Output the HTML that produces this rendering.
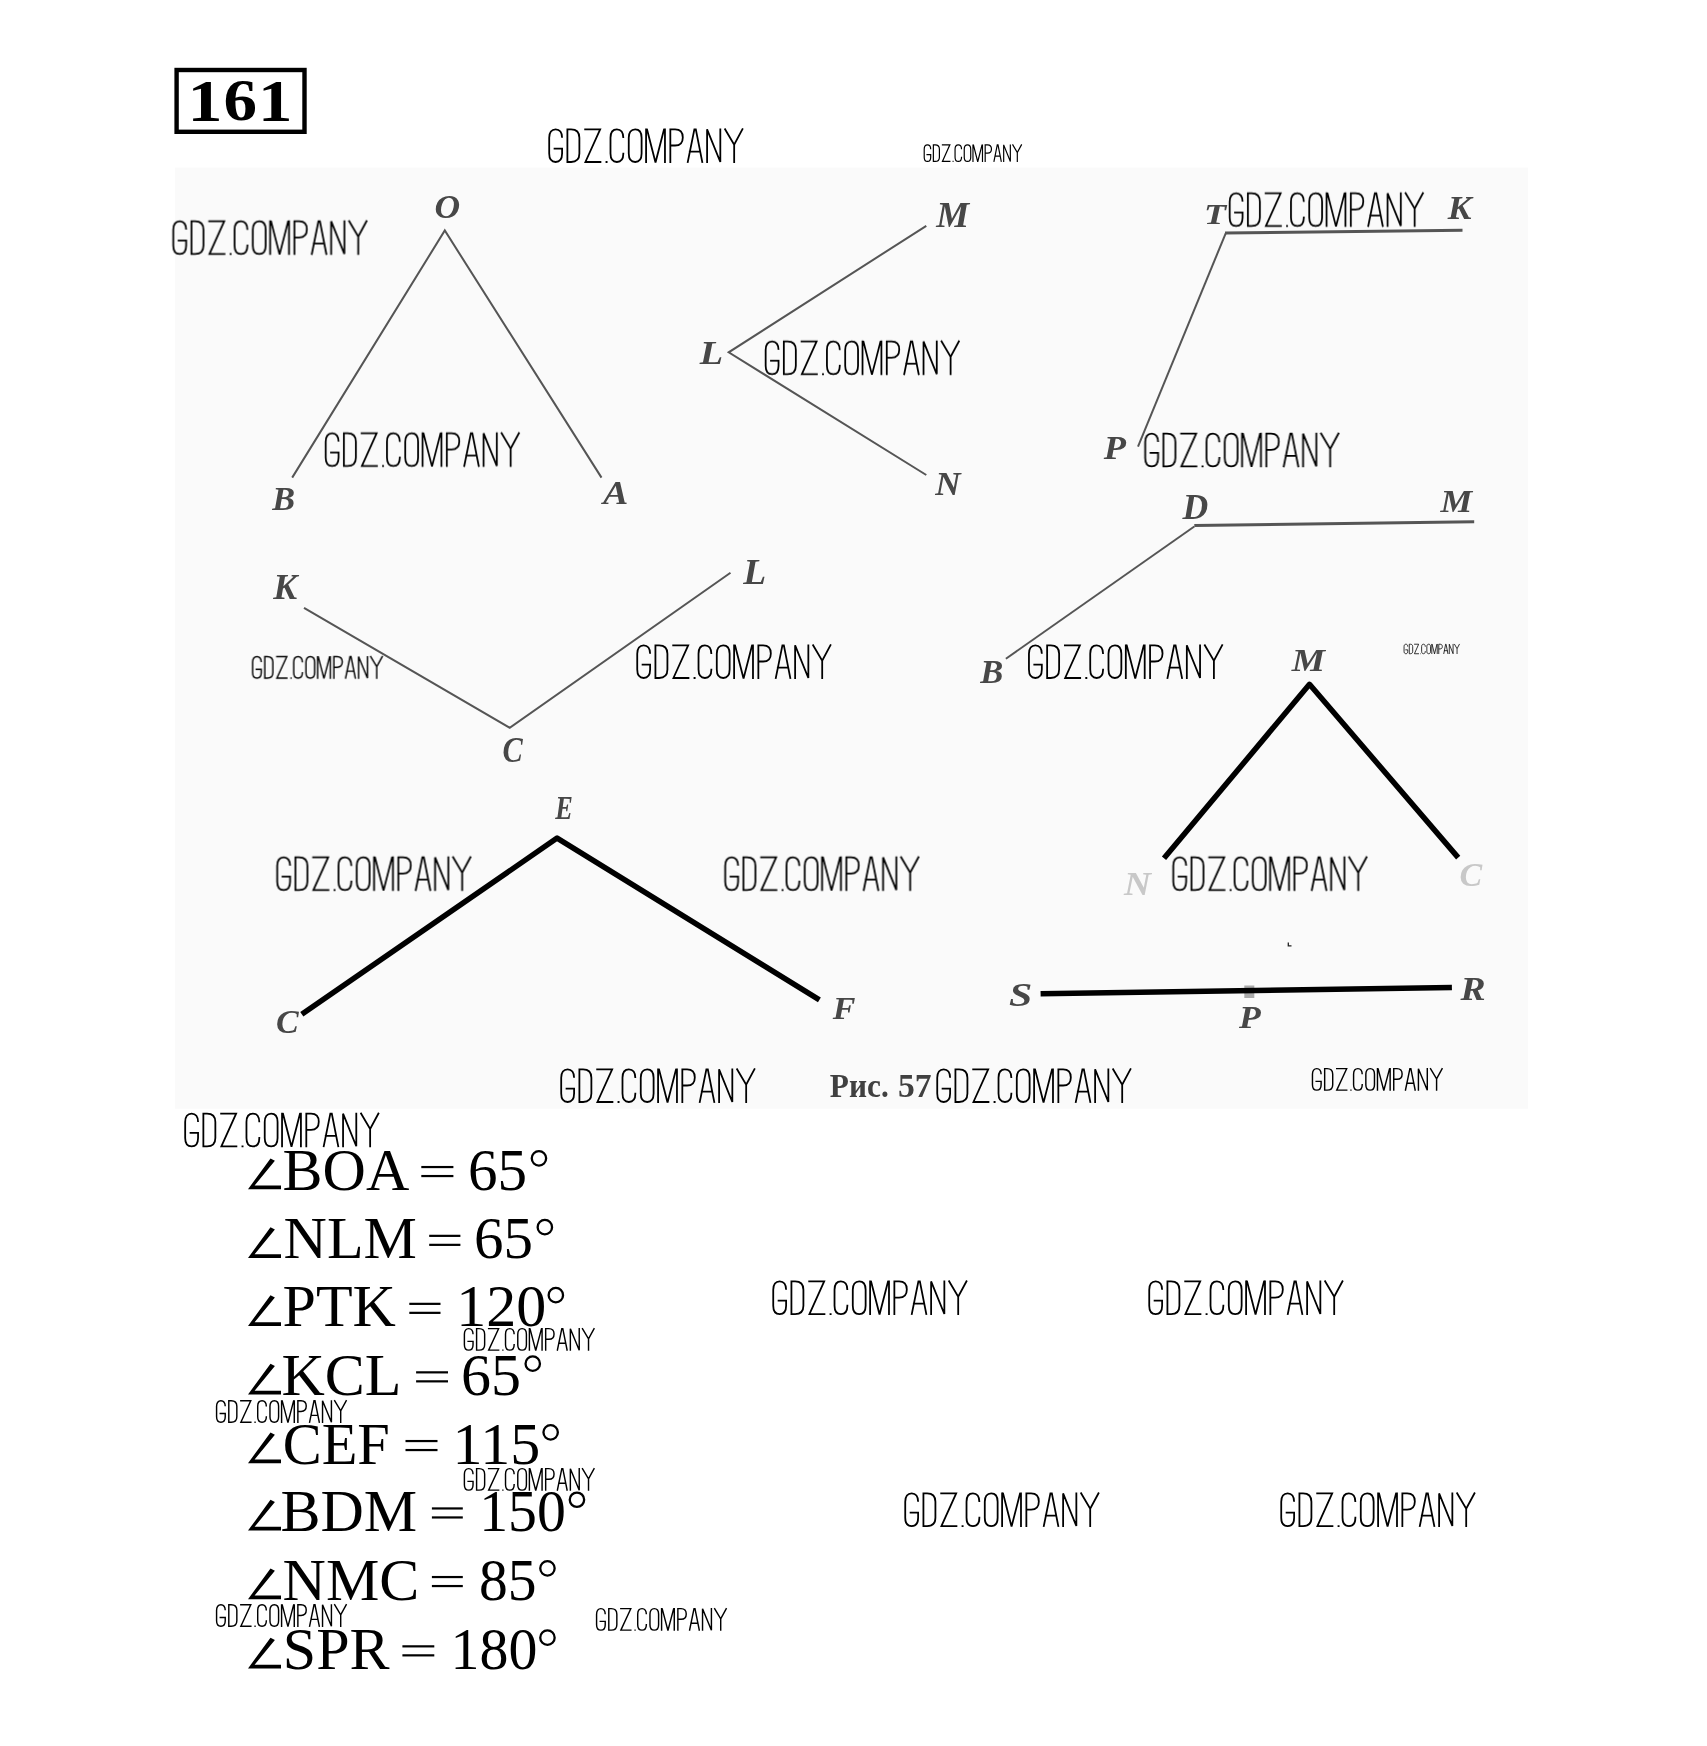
<!DOCTYPE html>
<html><head><meta charset="utf-8">
<style>
html,body{margin:0;padding:0;background:#fff;}
body{width:1707px;height:1746px;position:relative;overflow:hidden;}
svg{position:absolute;left:0;top:0;}
.lbl{font-family:"Liberation Serif",serif;font-style:italic;font-weight:bold;font-size:100px;}
.eq{font-family:"Liberation Serif",serif;font-size:60px;fill:#000;}
</style></head><body>
<svg width="1707" height="1746" viewBox="0 0 1707 1746">
<defs>
<filter id="bl" x="-20%" y="-20%" width="140%" height="140%"><feGaussianBlur stdDeviation="0.75"/></filter>
<path id="wmp" d="M40.0,27C40.00,11.38 33.27,2.60 21.30,2.60C9.33,2.60 2.60,11.38 2.60,27.00V73C2.60,88.62 9.33,97.40 21.30,97.40C33.27,97.40 40.00,88.62 40.00,73.00V58.5H15.5M55.4,2.6H66C81.49,2.6 90.2,11.38 90.2,27V73C90.2,88.62 81.49,97.4 66,97.4H55.4ZM104.3,2.6H150.5L107.7,97.4H153.9M217.8,27.5C217.80,11.38 211.09,2.60 199.15,2.60C187.21,2.60 180.50,11.38 180.50,27.00V73C180.50,88.62 187.21,97.40 199.15,97.40C211.09,97.40 217.80,88.62 217.80,73.00V70.3M233.5,27C233.50,11.38 240.21,2.60 252.15,2.60C264.09,2.60 270.80,11.38 270.80,27.00V73C270.8,88.62 264.09,97.4 252.15,97.4C240.21,97.4 233.5,88.62 233.5,73ZM283.8,100V0M338.6,100V0M286,1L311.2,99L336.4,1M354.2,100V2.6H368C382.21,2.6 390.4,11.04 390.4,26.05C390.4,41.06 382.21,49.5 368,49.5H354.2M404.3,100L424,2.6H428.2L447.4,100M408,67H443M460.9,100V2.6L499.3,97.4V0M511.8,0L539.5,47L564.8,0M539.5,47V100M166.2,97.4H171.9" fill="none" stroke="#000"/>
<use id="wmL" href="#wmp" stroke-width="5.2"/>
<use id="wmM" href="#wmp" stroke-width="6.2"/>
<use id="wmS" href="#wmp" stroke-width="6.8"/>
<use id="wmT" href="#wmp" stroke-width="8"/>
</defs>
<rect x="175" y="167.6" width="1353" height="941.1" fill="#fafafa"/>
<rect x="176.6" y="70" width="127.9" height="61.8" fill="none" stroke="#000" stroke-width="4.4"/>
<g font-family="Liberation Serif" font-weight="bold" font-size="100">
<text transform="translate(187.5,120.6) scale(0.7,0.5924)">1</text>
<text transform="translate(223.59,120.01) scale(0.6705,0.5925)">6</text>
<text transform="translate(257.89,120.6) scale(0.6892,0.5924)">1</text>
</g>
<g stroke="#555" stroke-width="2" fill="none">
<path d="M292.2,477.6L444.8,230.5L601.5,477.6"/>
<path d="M926.3,225.8L728.7,352.3L926.3,475"/>
<path d="M1138,446.6L1225.7,233.3"/>
<path d="M1225,233L1462.5,230.3" stroke-width="3"/>
<path d="M304,607.9L509.7,727.7L730.5,572.8"/>
<path d="M1005.9,658.7L1194.3,526.5"/>
<path d="M1194.3,525.5L1474.2,521.8" stroke-width="3"/>
</g>
<rect x="1244.3" y="985.5" width="10" height="12.5" fill="#aaa"/>
<path d="M1288.3,942.5V945.8H1291.5" stroke="#222" stroke-width="1.3" fill="none"/>
<g stroke="#000" stroke-width="5.5" fill="none" stroke-linejoin="round">
<path d="M301.8,1014.3L557.1,838.1L819.4,999.8"/>
<path d="M1164,858.3L1309.5,684.3L1458.2,857.6"/>
<path d="M1040.6,993.7L1451.9,987.4"/>

</g>
<g class="lbl" filter="url(#bl)">
<text transform="translate(434.38,217.57) scale(0.3554,0.3348)" fill="#464646">O</text><text transform="translate(272.14,509.6) scale(0.3422,0.3354)" fill="#464646">B</text><text transform="translate(603.0,503.7) scale(0.3791,0.347)" fill="#464646">A</text><text transform="translate(936.27,226.9) scale(0.3699,0.3492)" fill="#464646">M</text><text transform="translate(699.68,364.2) scale(0.3825,0.3354)" fill="#464646">L</text><text transform="translate(935.25,494.7) scale(0.3513,0.3354)" fill="#464646">N</text><text transform="translate(1204.07,224.3) scale(0.3614,0.2969)" fill="#464646">T</text><text transform="translate(1447.86,218.8) scale(0.3562,0.3446)" fill="#464646">K</text><text transform="translate(1103.8,459.0) scale(0.3645,0.3446)" fill="#464646">P</text><text transform="translate(1182.56,518.7) scale(0.3563,0.3646)" fill="#464646">D</text><text transform="translate(1440.46,512.4) scale(0.357,0.3169)" fill="#464646">M</text><text transform="translate(273.16,599.3) scale(0.3589,0.3492)" fill="#464646">K</text><text transform="translate(502.39,761.95) scale(0.3031,0.3485)" fill="#464646">C</text><text transform="translate(743.18,583.5) scale(0.3754,0.3538)" fill="#464646">L</text><text transform="translate(980.15,683.2) scale(0.3453,0.34)" fill="#464646">B</text><text transform="translate(1291.67,670.8) scale(0.3742,0.3154)" fill="#464646">M</text><text transform="translate(555.26,819.2) scale(0.2635,0.34)" fill="#464646">E</text><text transform="translate(276.08,1033.17) scale(0.34,0.3333)" fill="#464646">C</text><text transform="translate(832.8,1018.9) scale(0.34,0.3092)" fill="#464646">F</text><text transform="translate(1124.07,895.4) scale(0.3737,0.34)" fill="#c8c8c8">N</text><text transform="translate(1459.58,885.66) scale(0.34,0.3364)" fill="#c8c8c8">C</text><text transform="translate(1008.96,1005.54) scale(0.4184,0.3313)" fill="#464646">S</text><text transform="translate(1460.6,999.8) scale(0.3762,0.3385)" fill="#464646">R</text><text transform="translate(1239.1,1028.3) scale(0.3565,0.3154)" fill="#464646">P</text>
</g>
<g font-family="Liberation Serif" font-weight="bold" font-size="100" fill="#404040" filter="url(#bl)">
<text transform="translate(829.87,1096.97) scale(0.3132,0.3303)">Рис.</text>
<text transform="translate(898.06,1096.97) scale(0.3362,0.3303)">57</text>
</g>
<g class="eq">
<path d="M0,30.8H33V27H6.6L26.9,2.3L22.5,0Z" transform="translate(248,1158.3999999999999)"/><text transform="translate(282.6,1189.6) scale(1.0,1)">BOA</text><rect x="421.3" y="1165.95" width="32.1" height="2.2"/><rect x="421.3" y="1174.95" width="32.1" height="2.2"/><text transform="translate(468.0,1189.6) scale(0.985,1)">65</text><circle cx="538.95" cy="1158.35" r="7.2" fill="none" stroke="#000" stroke-width="2.3"/><path d="M0,30.8H33V27H6.6L26.9,2.3L22.5,0Z" transform="translate(248,1227.2)"/><text transform="translate(283.6,1258.4) scale(1.0,1)">NLM</text><rect x="429.2" y="1234.75" width="31.2" height="2.2"/><rect x="429.2" y="1243.75" width="31.2" height="2.2"/><text transform="translate(474.1,1258.4) scale(0.983,1)">65</text><circle cx="544.85" cy="1227.15" r="7.2" fill="none" stroke="#000" stroke-width="2.3"/><path d="M0,30.8H33V27H6.6L26.9,2.3L22.5,0Z" transform="translate(248,1295.2)"/><text transform="translate(282.6,1326.4) scale(1.0,1)">PTK</text><rect x="409.3" y="1302.75" width="31.2" height="2.2"/><rect x="409.3" y="1311.75" width="31.2" height="2.2"/><text transform="translate(456.2,1326.4) scale(1.0,1)">120</text><circle cx="555.85" cy="1295.15" r="7.2" fill="none" stroke="#000" stroke-width="2.3"/><path d="M0,30.8H33V27H6.6L26.9,2.3L22.5,0Z" transform="translate(248,1363.7)"/><text transform="translate(281.4,1394.9) scale(1.0,1)">KCL</text><rect x="416.1" y="1371.25" width="31.9" height="2.2"/><rect x="416.1" y="1380.25" width="31.9" height="2.2"/><text transform="translate(461.0,1394.9) scale(1.0,1)">65</text><circle cx="532.75" cy="1363.65" r="7.2" fill="none" stroke="#000" stroke-width="2.3"/><path d="M0,30.8H33V27H6.6L26.9,2.3L22.5,0Z" transform="translate(248,1432.3999999999999)"/><text transform="translate(282.7,1463.6) scale(0.974,1)">CEF</text><rect x="405.5" y="1439.95" width="32.0" height="2.2"/><rect x="405.5" y="1448.95" width="32.0" height="2.2"/><text transform="translate(452.6,1463.6) scale(1.0,1)">115</text><circle cx="550.65" cy="1432.35" r="7.2" fill="none" stroke="#000" stroke-width="2.3"/><path d="M0,30.8H33V27H6.6L26.9,2.3L22.5,0Z" transform="translate(248,1499.8)"/><text transform="translate(280.4,1531.0) scale(1.0,1)">BDM</text><rect x="431.9" y="1507.35" width="30.9" height="2.2"/><rect x="431.9" y="1516.35" width="30.9" height="2.2"/><text transform="translate(479.2,1531.0) scale(0.963,1)">150</text><circle cx="576.95" cy="1499.75" r="7.2" fill="none" stroke="#000" stroke-width="2.3"/><path d="M0,30.8H33V27H6.6L26.9,2.3L22.5,0Z" transform="translate(248,1568.3999999999999)"/><text transform="translate(282.6,1599.6) scale(1.0,1)">NMC</text><rect x="431.9" y="1575.95" width="30.9" height="2.2"/><rect x="431.9" y="1584.95" width="30.9" height="2.2"/><text transform="translate(479.1,1599.6) scale(0.959,1)">85</text><circle cx="547.45" cy="1568.35" r="7.2" fill="none" stroke="#000" stroke-width="2.3"/><path d="M0,30.8H33V27H6.6L26.9,2.3L22.5,0Z" transform="translate(248,1637.7)"/><text transform="translate(282.8,1668.9) scale(1.0,1)">SPR</text><rect x="402.4" y="1645.25" width="31.9" height="2.2"/><rect x="402.4" y="1654.25" width="31.9" height="2.2"/><text transform="translate(450.6,1668.9) scale(0.965,1)">180</text><circle cx="547.45" cy="1637.65" r="7.2" fill="none" stroke="#000" stroke-width="2.3"/>
</g>
<use href="#wmL" transform="translate(548.31,128.44) scale(0.3445,0.3445)"/><use href="#wmS" transform="translate(923.76,144.4) scale(0.1734,0.1752)"/><use href="#wmL" transform="translate(172.34,220.41) scale(0.3445,0.3445)"/><use href="#wmL" transform="translate(1228.8,192.4) scale(0.3445,0.3445)"/><use href="#wmL" transform="translate(764.7,340.6) scale(0.3445,0.3445)"/><use href="#wmL" transform="translate(324.8,432.4) scale(0.3445,0.3445)"/><use href="#wmL" transform="translate(1144.28,432.73) scale(0.3445,0.3445)"/><use href="#wmM" transform="translate(251.97,656.07) scale(0.2312,0.2268)"/><use href="#wmL" transform="translate(636.34,644.44) scale(0.3445,0.3445)"/><use href="#wmL" transform="translate(1028.05,644.44) scale(0.3445,0.3445)"/><use href="#wmT" transform="translate(1403.8,643.95) scale(0.0987,0.1005)"/><use href="#wmL" transform="translate(276.31,856.44) scale(0.3445,0.3445)"/><use href="#wmL" transform="translate(724.31,856.44) scale(0.3445,0.3445)"/><use href="#wmL" transform="translate(1172.34,856.44) scale(0.3445,0.3445)"/><use href="#wmL" transform="translate(560.31,1068.44) scale(0.3445,0.3445)"/><use href="#wmL" transform="translate(936.34,1068.44) scale(0.3445,0.3445)"/><use href="#wmM" transform="translate(1311.86,1068.08) scale(0.2312,0.2268)"/><use href="#wmL" transform="translate(184.28,1112.73) scale(0.3445,0.3445)"/><use href="#wmL" transform="translate(772.34,1280.48) scale(0.3445,0.3445)"/><use href="#wmL" transform="translate(1148.34,1280.48) scale(0.3445,0.3445)"/><use href="#wmM" transform="translate(463.79,1328.08) scale(0.2312,0.2268)"/><use href="#wmM" transform="translate(215.98,1400.2) scale(0.2312,0.2268)"/><use href="#wmM" transform="translate(463.79,1468.08) scale(0.2312,0.2268)"/><use href="#wmL" transform="translate(904.34,1492.48) scale(0.3445,0.3445)"/><use href="#wmL" transform="translate(1280.34,1492.48) scale(0.3445,0.3445)"/><use href="#wmM" transform="translate(215.98,1604.2) scale(0.2312,0.2268)"/><use href="#wmM" transform="translate(595.98,1608.08) scale(0.2312,0.2268)"/>
</svg>
</body></html>
